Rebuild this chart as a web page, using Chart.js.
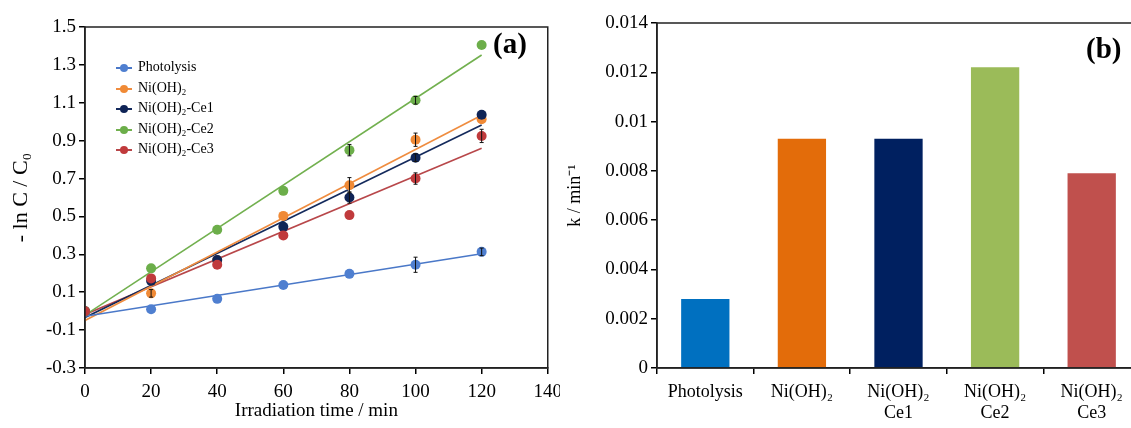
<!DOCTYPE html>
<html>
<head>
<meta charset="utf-8">
<script src="https://cdn.jsdelivr.net/npm/chart.js@4.4.1/dist/chart.umd.min.js"></script>
<style>
  html, body { margin: 0; padding: 0; background: #fff; overflow: hidden; }
  body { width: 1131px; height: 428px; position: relative; font-family: "Liberation Serif", "Times New Roman", serif; }
  #leftWrap { position: absolute; left: 0; top: 0; width: 560px; height: 428px; overflow: hidden; }
  #left { position: absolute; left: 0; top: 0; }
  #right { position: absolute; left: 560px; top: 0; }
  .panel { position: absolute; font-weight: bold; font-size: 29px; color: #000; }
  #legend { position: absolute; left: 116px; top: 57px; font-size: 14px; color: #000; }
  #legend div { height: 20.5px; line-height: 20.5px; position: relative; padding-left: 22px; white-space: nowrap; }
  #legend .mk { position: absolute; left: 0; top: 10px; width: 16px; height: 2px; }
  #legend .mk i { position: absolute; left: 4px; top: -3px; width: 8px; height: 8px; border-radius: 50%; }
</style>
</head>
<body>
<div id="leftWrap"><canvas id="left" width="569" height="428"></canvas></div>
<canvas id="right" width="600" height="428"></canvas>
<div class="panel" style="left:493px;top:27px;">(a)</div>
<div class="panel" style="left:1086px;top:32px;">(b)</div>
<div id="legend"></div>
<script>
// (a) 一次速度プロット
const times = [0, 20, 40, 60, 80, 100, 120];
const seriesNames = ['Photolysis', 'Ni(OH)₂', 'Ni(OH)₂-Ce1', 'Ni(OH)₂-Ce2', 'Ni(OH)₂-Ce3'];
const photolysis = [0.0, 0.01, 0.065, 0.138, 0.197, 0.245, 0.313];
const niOH2 = [0.0, 0.094, 0.27, 0.503, 0.665, 0.905, 1.013];
const ce1 = [0.0, 0.16, 0.27, 0.445, 0.60, 0.81, 1.037];
const ce2 = [0.0, 0.226, 0.43, 0.635, 0.85, 1.113, 1.405];
const ce3 = [0.0, 0.173, 0.245, 0.40, 0.507, 0.70, 0.925];
// 誤差 (見えるものだけ)
const photolysisErr = [0, 0, 0, 0, 0, 0.04, 0.02];
const niOH2Err = [0, 0.02, 0, 0, 0.04, 0.035, 0];
const ce1Err = [0, 0, 0, 0, 0.03, 0.02, 0];
const ce2Err = [0, 0, 0, 0, 0.03, 0.02, 0];
const ce3Err = [0, 0, 0, 0, 0, 0.03, 0.035];
// 近似直線の両端 (t=0, t=120)
const fitTimes = [0, 120];
const fitStart = [-0.027, -0.049, -0.033, -0.021, -0.017];
const fitEnd = [0.303, 1.034, 0.983, 1.352, 0.860];
const xTicks = [0, 140, 20];
const yTicks = [-0.3, 1.5, 0.2];

// (b) 速度定数
const kCategories = ['Photolysis', 'Ni(OH)₂', ['Ni(OH)₂', 'Ce1'], ['Ni(OH)₂', 'Ce2'], ['Ni(OH)₂', 'Ce3']];
const kValues = [0.0028, 0.0093, 0.0093, 0.0122, 0.0079];
const kTicks = [0, 0.014, 0.002];

const FONT = '"Liberation Serif", "Times New Roman", serif';
const pointColors = ['#4f7fd0', '#f08a36', '#0f2456', '#6cae4a', '#c03a3c'];
const lineColors = ['#4a78c8', '#ef8c3f', '#142a5c', '#72b04f', '#b8474a'];
const barColors = ['#0070c0', '#e36c0a', '#002060', '#9bbb59', '#c0504d'];
const allValues = [photolysis, niOH2, ce1, ce2, ce3];
const allErrors = [photolysisErr, niOH2Err, ce1Err, ce2Err, ce3Err];

// 枠線
const boxPlugin = {
  id: 'box',
  afterDraw(chart) {
    const a = chart.chartArea, ctx = chart.ctx;
    ctx.save();
    ctx.strokeStyle = '#222';
    ctx.lineWidth = 1.5;
    ctx.strokeRect(a.left, a.top, a.right - a.left, a.bottom - a.top);
    ctx.restore();
  }
};

// 誤差棒
const errorBarPlugin = {
  id: 'errorBars',
  afterDatasetsDraw(chart) {
    const ctx = chart.ctx, ys = chart.scales.y, xs = chart.scales.x;
    ctx.save();
    ctx.strokeStyle = '#111';
    ctx.lineWidth = 1;
    chart.data.datasets.forEach(ds => {
      if (!ds.errors) return;
      ds.data.forEach((p, j) => {
        const e = ds.errors[j];
        if (!e) return;
        const x = xs.getPixelForValue(p.x);
        const y1 = ys.getPixelForValue(p.y + e);
        const y2 = ys.getPixelForValue(p.y - e);
        ctx.beginPath();
        ctx.moveTo(x, y1); ctx.lineTo(x, y2);
        ctx.moveTo(x - 2, y1); ctx.lineTo(x + 2, y1);
        ctx.moveTo(x - 2, y2); ctx.lineTo(x + 2, y2);
        ctx.stroke();
      });
    });
    ctx.restore();
  }
};

const leftDatasets = [];
seriesNames.forEach((name, i) => {
  leftDatasets.push({
    type: 'scatter',
    label: name,
    data: times.map((t, j) => ({ x: t, y: allValues[i][j] })),
    errors: allErrors[i],
    backgroundColor: pointColors[i],
    borderWidth: 0,
    pointRadius: 5,
    order: 5 - i
  });
  leftDatasets.push({
    type: 'line',
    label: name + ' fit',
    data: fitTimes.map((t, j) => ({ x: t, y: j === 0 ? fitStart[i] : fitEnd[i] })),
    borderColor: lineColors[i],
    borderWidth: 1.6,
    pointRadius: 0,
    fill: false,
    order: 10
  });
});

const axisCommon = (size) => ({
  ticks: { color: '#000', font: { family: FONT, size } },
  grid: { display: true, drawOnChartArea: false, drawTicks: true, tickLength: 6, color: '#000', lineWidth: 1.5 },
  border: { color: '#222', width: 1.5 }
});

new Chart(document.getElementById('left'), {
  type: 'scatter',
  data: { datasets: leftDatasets },
  options: {
    responsive: false,
    animation: false,
    layout: { padding: { top: 27, right: 0, left: 0, bottom: 0 } },
    plugins: { legend: { display: false }, tooltip: { enabled: false } },
    scales: {
      x: {
        type: 'linear', min: xTicks[0], max: xTicks[1],
        ...axisCommon(19),
        ticks: { stepSize: xTicks[2], color: '#000', padding: 7, font: { family: FONT, size: 19 } },
        title: { display: true, text: 'Irradiation time / min', color: '#000', font: { family: FONT, size: 19 }, padding: { top: 0, bottom: 6 } },
        afterFit: s => { s.height = 60; }
      },
      y: {
        min: yTicks[0], max: yTicks[1],
        ...axisCommon(19),
        ticks: { stepSize: yTicks[2], color: '#000', padding: 3, font: { family: FONT, size: 19 }, callback: v => v.toFixed(1) },
        title: { display: true, text: '- ln C / C₀', color: '#000', font: { family: FONT, size: 22 }, padding: { top: 8, bottom: 0 } },
        afterFit: s => { s.width = 85; }
      }
    }
  },
  plugins: [errorBarPlugin, boxPlugin]
});

new Chart(document.getElementById('right'), {
  type: 'bar',
  data: {
    labels: kCategories,
    datasets: [{ data: kValues, backgroundColor: barColors, barPercentage: 0.5, categoryPercentage: 1.0 }]
  },
  options: {
    responsive: false,
    animation: false,
    layout: { padding: { top: 23, right: 20, left: 0, bottom: 0 } },
    plugins: { legend: { display: false }, tooltip: { enabled: false } },
    scales: {
      x: {
        ...axisCommon(18),
        ticks: { color: '#000', padding: 8, maxRotation: 0, font: { family: FONT, size: 18, lineHeight: 1.15 } },
        afterFit: s => { s.height = 60; }
      },
      y: {
        min: kTicks[0], max: kTicks[1],
        ...axisCommon(19),
        ticks: { stepSize: kTicks[2], color: '#000', padding: 3, font: { family: FONT, size: 19 }, callback: v => String(Number(v.toFixed(3))) },
        title: { display: true, text: 'k / min⁻¹', color: '#000', font: { family: FONT, size: 18 }, padding: { top: 4, bottom: 2 } },
        afterFit: s => { s.width = 97; }
      }
    }
  },
  plugins: [boxPlugin]
});

// 凡例 (グラフ内)
const legend = document.getElementById('legend');
seriesNames.forEach((name, i) => {
  const row = document.createElement('div');
  const mk = document.createElement('span');
  mk.className = 'mk';
  mk.style.background = lineColors[i];
  const dot = document.createElement('i');
  dot.style.background = pointColors[i];
  mk.appendChild(dot);
  row.appendChild(mk);
  row.appendChild(document.createTextNode(name));
  legend.appendChild(row);
});
</script>
</body>
</html>
